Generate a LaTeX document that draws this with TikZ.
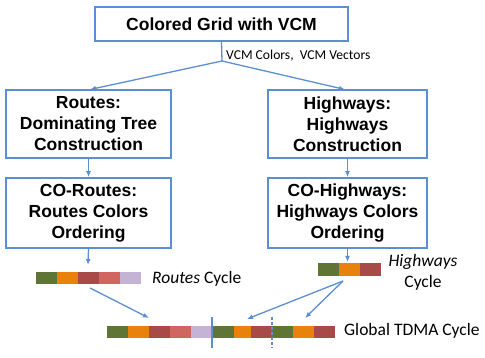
\documentclass[tikz,border=0pt]{standalone}
\usepackage{fontspec}
\setmainfont{Liberation Sans}
\newfontfamily\carlito{Carlito}
\usetikzlibrary{arrows.meta,shadows}
\definecolor{bl}{HTML}{5B8FD1}
\definecolor{cgreen}{HTML}{5E7535}
\definecolor{corange}{HTML}{E8820C}
\definecolor{cdred}{HTML}{A84B48}
\definecolor{csalmon}{HTML}{D0665F}
\definecolor{clav}{HTML}{C4B3D5}
\tikzset{
  box/.style={draw=bl, line width=1.9pt, fill=white, inner sep=0pt, align=center,
    font=\fontsize{17.5}{21}\selectfont\bfseries,
    drop shadow={shadow xshift=1pt, shadow yshift=-1pt, fill=black!25, opacity=0.5}},
  conn/.style={draw=bl, line width=1.3pt},
  arr/.style={conn, -{Latex[length=6pt,width=5pt]}},
  lbl/.style={font=\carlito\fontsize{17.5}{21}\selectfont, inner sep=0pt},
  seg/.style={inner sep=0pt, outer sep=0pt, minimum height=12pt, anchor=north west}
}
\begin{document}
\begin{tikzpicture}[x=1pt,y=-1pt]
\useasboundingbox (0,0) rectangle (485,358);
% boxes
\node[box, minimum width=253pt, minimum height=34pt] (top) at (221.5,24) {Colored Grid with VCM};
\node[box, minimum width=165pt, minimum height=68pt] (routes) at (88.5,124) {Routes:\\Dominating Tree\\Construction};
\node[box, minimum width=159pt, minimum height=68pt] (hw) at (347.5,124) {Highways:\\Highways\\Construction};
\node[box, minimum width=165pt, minimum height=70pt] (coroutes) at (88.5,213) {CO-Routes:\\Routes Colors\\Ordering};
\node[box, minimum width=159pt, minimum height=70pt] (cohw) at (347.5,213) {CO-Highways:\\Highways Colors\\Ordering};
% top split
\coordinate (split) at (222,61);
\draw[conn] (top.south) -- (split);
\draw[arr] (split) -- (90,89.5) coordinate (rtop);
\draw[arr] (split) -- (345,89.5) coordinate (htop);
\node[anchor=west, font=\carlito\fontsize{13.6}{15}\selectfont, inner sep=0pt] (vcm) at (226,56) {VCM Colors,\ \ VCM Vectors};
\draw[arr] (routes.south) -- (coroutes.north);
\draw[arr] (hw.south) -- (cohw.north);
% routes bar
\foreach \c [count=\i from 0] in {cgreen,corange,cdred,csalmon,clav}
  \fill[\c] (36+21*\i,272) rectangle ++(21,12);
\coordinate (rbar) at (88,265);
\draw[arr] (coroutes.south) -- (rbar);
\node[lbl, anchor=west] (rcyc) at (152,279) {\textit{Routes} Cycle};
% highways bar
\foreach \c [count=\i from 0] in {cgreen,corange,cdred}
  \fill[\c] (318+21*\i,263) rectangle ++(21,13);
\coordinate (hbar) at (347.5,262);
\draw[arr] (cohw.south) -- (hbar);
\node[lbl, align=center] (hcyc) at (423,272.5) {\textit{Highways}\\Cycle};
% global bar
\foreach \c [count=\i from 0] in {cgreen,corange,cdred,csalmon,clav}
  \fill[\c] (107+21*\i,326) rectangle ++(21,12);
\fill[cgreen] (213,326) rectangle (234,338);
\fill[corange] (234,326) rectangle (251,338);
\fill[cdred] (251,326) rectangle (272,338);
\foreach \c [count=\i from 0] in {cgreen,corange,cdred}
  \fill[\c] (272+21*\i,326) rectangle ++(21,12);
\coordinate (s1) at (212,317);
\coordinate (s2) at (212,348);
\coordinate (d1) at (272,317);
\coordinate (d2) at (272,348);
\draw[conn] (s1) -- (s2);
\draw[conn, dashed, dash pattern=on 3pt off 2pt] (d1) -- (d2);
\node[lbl, anchor=west] (gcyc) at (344,330.5) {Global TDMA Cycle};
% arrows to global
\coordinate (rsrc) at (90,288);
\coordinate (rdst) at (149,318);
\coordinate (hsrc) at (343,281);
\coordinate (hdst1) at (247,319);
\coordinate (hdst2) at (305,318);
\draw[arr] (rsrc) -- (rdst);
\draw[arr] (hsrc) -- (hdst1);
\draw[arr] (hsrc) -- (hdst2);
\end{tikzpicture}
\end{document}
